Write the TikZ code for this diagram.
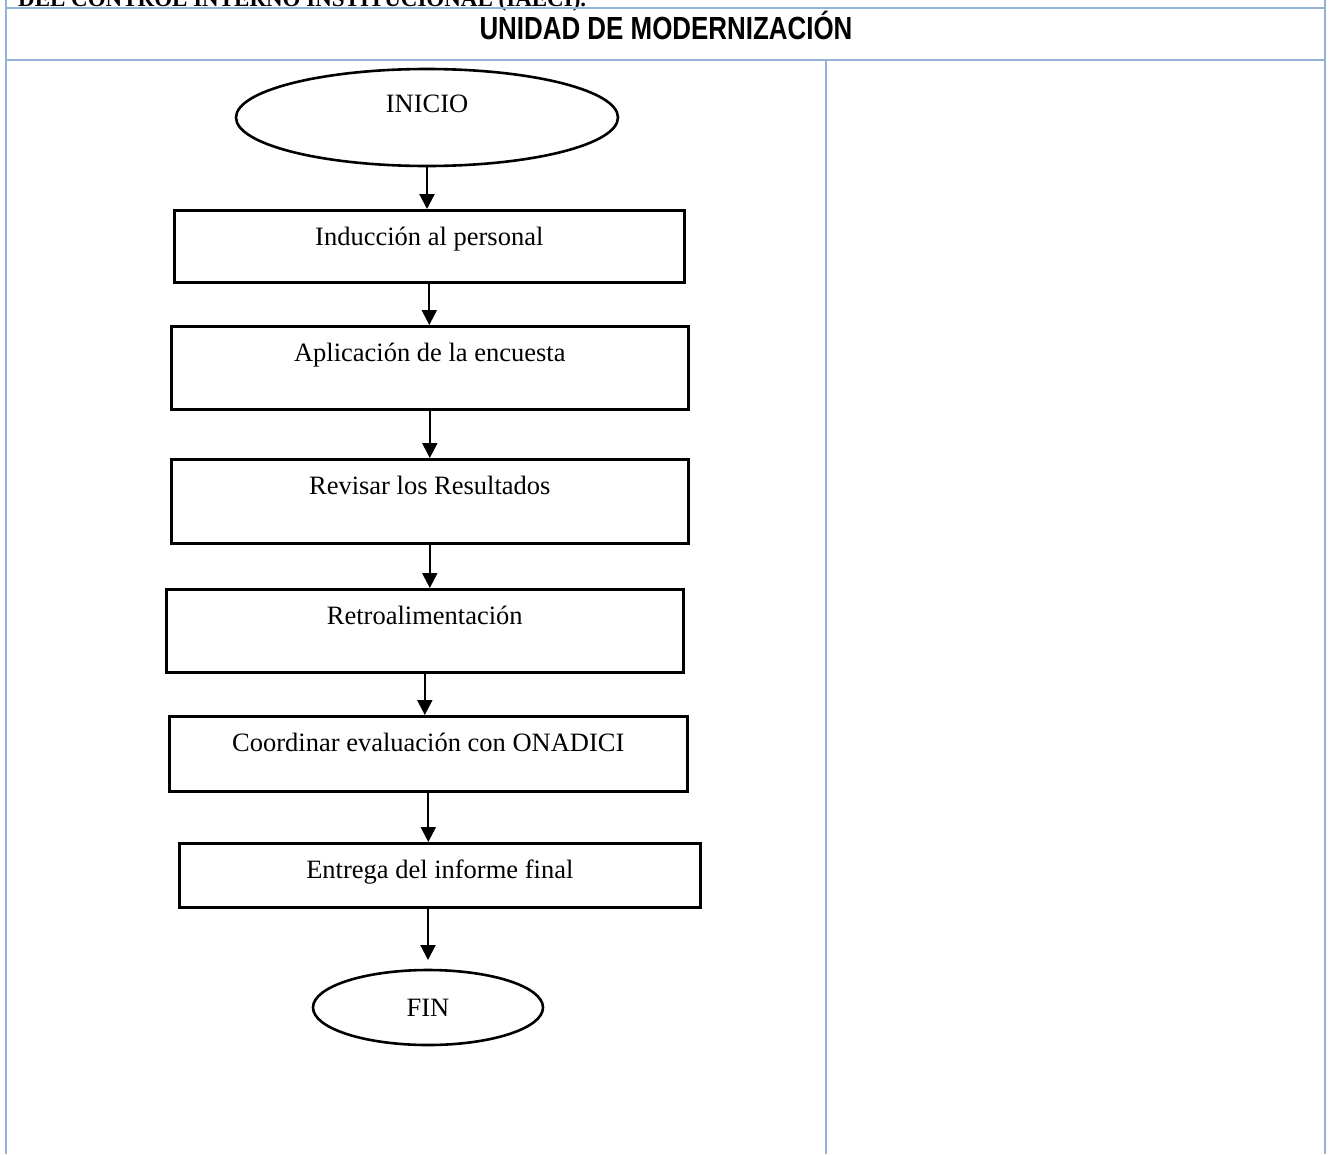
\documentclass[tikz,border=0pt]{standalone}
\usepackage{fontspec}
\setmainfont{Liberation Serif}
\newfontfamily\titlefont[FakeStretch=0.81]{Liberation Sans}
\usetikzlibrary{shapes.geometric,arrows.meta}
\definecolor{gridblue}{HTML}{95B3D7}
\tikzset{
  grid/.style={draw=gridblue,line width=2pt},
  proc/.style={draw,line width=2.6pt,rectangle,inner sep=0pt,anchor=north west,
    text height=35pt,font=\fontsize{26.5}{30}\selectfont},
  term/.style={draw,line width=2.6pt,ellipse,inner sep=0pt,
    font=\fontsize{26.5}{30}\selectfont},
  arr/.style={line width=2.2pt,-{Triangle[length=15pt,width=15pt]}}
}
\begin{document}
\begin{tikzpicture}[x=1pt,y=-1pt]
\useasboundingbox (0,0) rectangle (1330,1154);
% cut-off heading
\node[anchor=base west,inner sep=0pt,font=\fontsize{23}{26}\selectfont\bfseries] (head) at (18,6) {DEL CONTROL INTERNO INSTITUCIONAL (IAECI).};
% table frame
\coordinate (tl) at (6,0);
\coordinate (tr) at (1325,0);
\coordinate (bl) at (6,1154);
\coordinate (br) at (1325,1154);
\coordinate (l1) at (6,8);
\coordinate (r1) at (1325,8);
\coordinate (l2) at (6,60);
\coordinate (r2) at (1325,60);
\coordinate (m1) at (826,60);
\coordinate (m2) at (826,1154);
\draw[grid] (tl) -- (bl);
\draw[grid] (tr) -- (br);
\draw[grid] (l1) -- (r1);
\draw[grid] (l2) -- (r2);
\draw[grid] (m1) -- (m2);
\node[anchor=base,inner sep=0pt,font=\titlefont\bfseries\fontsize{32}{36}\selectfont] (title) at (666,39) {UNIDAD DE MODERNIZACIÓN};
% flowchart
\node[term,minimum width=382pt,minimum height=97pt,text height=9pt,text depth=19pt] (ini) at (427,117.5) {INICIO};
\node[proc,minimum width=510pt,minimum height=72pt,text depth=37pt] (b1) at (173,209) {Inducción al personal};
\node[proc,minimum width=517pt,minimum height=83pt,text depth=48pt] (b2) at (170,325) {Aplicación de la encuesta};
\node[proc,minimum width=517pt,minimum height=84pt,text depth=49pt] (b3) at (170,458) {Revisar los Resultados};
\node[proc,minimum width=517pt,minimum height=83pt,text depth=48pt] (b4) at (165,588) {Retroalimentación};
\node[proc,minimum width=518pt,minimum height=75pt,text depth=40pt] (b5) at (168,715) {Coordinar evaluación con ONADICI};
\node[proc,minimum width=521pt,minimum height=64pt,text depth=29pt] (b6) at (178,842) {Entrega del informe final};
\node[term,minimum width=230pt,minimum height=75pt] (fin) at (428,1007.5) {FIN};
\coordinate (finend) at (428,960);
\draw[arr] (ini.south) -- (ini.south |- b1.north);
\draw[arr] (b1.south) -- (b1.south |- b2.north);
\draw[arr] (b2.south) -- (b2.south |- b3.north);
\draw[arr] (b3.south) -- (b3.south |- b4.north);
\draw[arr] (b4.south) -- (b4.south |- b5.north);
\draw[arr] (b5.south) -- (b5.south |- b6.north);
\draw[arr] (b6.south -| fin.north) -- (finend);
\end{tikzpicture}
\end{document}
